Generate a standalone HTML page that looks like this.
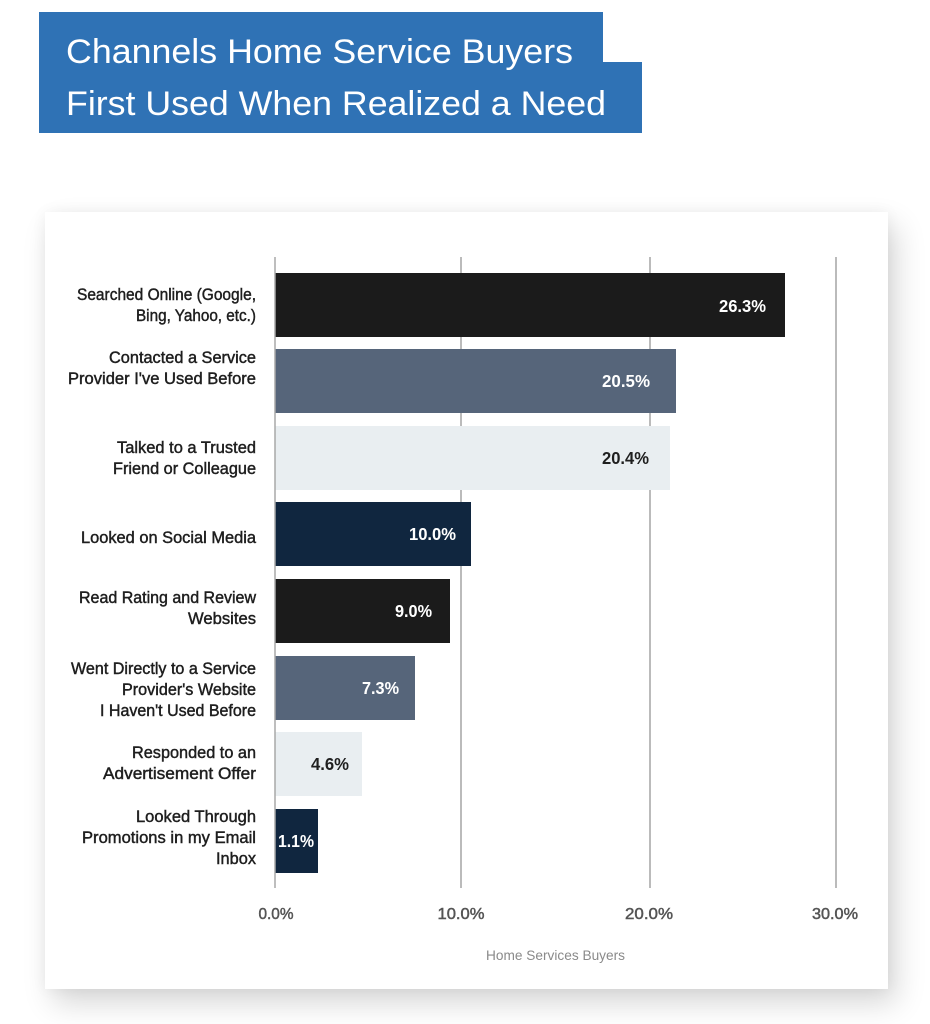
<!DOCTYPE html>
<html>
<head>
<meta charset="utf-8">
<style>
  html,body{margin:0;padding:0;background:#ffffff;}
  body{width:930px;height:1024px;position:relative;overflow:hidden;font-family:"Liberation Sans",sans-serif;}
  .card{position:absolute;left:45px;top:212px;width:843px;height:777px;background:#fff;
    box-shadow:8px 14px 28px rgba(0,0,0,0.16), 0 0 14px rgba(0,0,0,0.05);}
  svg{position:absolute;left:0;top:0;}
</style>
</head>
<body>
<div class="card"></div>
<svg width="930" height="1024" viewBox="0 0 930 1024" xmlns="http://www.w3.org/2000/svg">
  <!-- header blocks -->
  <rect x="39" y="12" width="564" height="52" fill="#2f72b5"/>
  <rect x="39" y="62" width="603" height="71" fill="#2f72b5"/>
  <g font-family="Liberation Sans, DejaVu Sans, sans-serif" font-size="34" fill="#ffffff">
    <text x="66" y="63" textLength="507" lengthAdjust="spacingAndGlyphs">Channels Home Service Buyers</text>
    <text x="66" y="115" textLength="540" lengthAdjust="spacingAndGlyphs">First Used When Realized a Need</text>
  </g>

  <!-- gridlines -->
  <g stroke="#8e8e8e" stroke-width="1.2">
    <line x1="461" y1="257" x2="461" y2="888"/>
    <line x1="650" y1="257" x2="650" y2="888"/>
    <line x1="836" y1="257" x2="836" y2="888"/>
  </g>

  <!-- bars -->
  <rect x="275" y="273" width="510" height="64" fill="#1b1b1b"/>
  <rect x="275" y="349" width="401" height="64" fill="#56657a"/>
  <rect x="275" y="426" width="395" height="64" fill="#e9eef1"/>
  <rect x="275" y="502" width="196" height="64" fill="#10263f"/>
  <rect x="275" y="579" width="175" height="64" fill="#1b1b1b"/>
  <rect x="275" y="656" width="140" height="64" fill="#56657a"/>
  <rect x="275" y="732" width="87" height="64" fill="#e9eef1"/>
  <rect x="275" y="809" width="43" height="64" fill="#10263f"/>

  <!-- axis line -->
  <line x1="275" y1="257" x2="275" y2="888" stroke="#a8a8a8" stroke-width="1.5"/>

  <!-- value labels -->
  <g font-family="Liberation Sans, sans-serif" font-size="17.5" font-weight="bold" text-anchor="middle">
    <text x="742.5" y="312" fill="#ffffff" textLength="47" lengthAdjust="spacingAndGlyphs">26.3%</text>
    <text x="626" y="387" fill="#ffffff" textLength="48" lengthAdjust="spacingAndGlyphs">20.5%</text>
    <text x="625.5" y="464" fill="#1f1f1f" textLength="47" lengthAdjust="spacingAndGlyphs">20.4%</text>
    <text x="432.5" y="540" fill="#ffffff" textLength="47" lengthAdjust="spacingAndGlyphs">10.0%</text>
    <text x="413.5" y="617" fill="#ffffff" textLength="37" lengthAdjust="spacingAndGlyphs">9.0%</text>
    <text x="380.5" y="694" fill="#ffffff" textLength="37" lengthAdjust="spacingAndGlyphs">7.3%</text>
    <text x="330" y="770" fill="#1f1f1f" textLength="38" lengthAdjust="spacingAndGlyphs">4.6%</text>
    <text x="296" y="847" fill="#ffffff" textLength="36" lengthAdjust="spacingAndGlyphs">1.1%</text>
  </g>

  <!-- category labels -->
  <g font-family="Liberation Sans, sans-serif" font-size="16.5" fill="#1e1e1e" stroke="#1e1e1e" stroke-width="0.45" text-anchor="end">
    <text x="256" y="300" textLength="179" lengthAdjust="spacingAndGlyphs">Searched Online (Google,</text>
    <text x="256" y="321" textLength="120" lengthAdjust="spacingAndGlyphs">Bing, Yahoo, etc.)</text>

    <text x="256" y="363" textLength="147" lengthAdjust="spacingAndGlyphs">Contacted a Service</text>
    <text x="256" y="384" textLength="188" lengthAdjust="spacingAndGlyphs">Provider I've Used Before</text>

    <text x="256" y="453" textLength="139" lengthAdjust="spacingAndGlyphs">Talked to a Trusted</text>
    <text x="256" y="474" textLength="143" lengthAdjust="spacingAndGlyphs">Friend or Colleague</text>

    <text x="256" y="543" textLength="175" lengthAdjust="spacingAndGlyphs">Looked on Social Media</text>

    <text x="256" y="603" textLength="177" lengthAdjust="spacingAndGlyphs">Read Rating and Review</text>
    <text x="256" y="624" textLength="68" lengthAdjust="spacingAndGlyphs">Websites</text>

    <text x="256" y="674" textLength="185" lengthAdjust="spacingAndGlyphs">Went Directly to a Service</text>
    <text x="256" y="695" textLength="134" lengthAdjust="spacingAndGlyphs">Provider's Website</text>
    <text x="256" y="716" textLength="156" lengthAdjust="spacingAndGlyphs">I Haven't Used Before</text>

    <text x="256" y="758" textLength="124" lengthAdjust="spacingAndGlyphs">Responded to an</text>
    <text x="256" y="779" textLength="153" lengthAdjust="spacingAndGlyphs">Advertisement Offer</text>

    <text x="256" y="822" textLength="120" lengthAdjust="spacingAndGlyphs">Looked Through</text>
    <text x="256" y="843" textLength="174" lengthAdjust="spacingAndGlyphs">Promotions in my Email</text>
    <text x="256" y="864" textLength="40" lengthAdjust="spacingAndGlyphs">Inbox</text>
  </g>

  <!-- tick labels -->
  <g font-family="Liberation Sans, sans-serif" font-size="16" fill="#555555" stroke="#555555" stroke-width="0.5" text-anchor="middle">
    <text x="276" y="919" textLength="35" lengthAdjust="spacingAndGlyphs">0.0%</text>
    <text x="461" y="919" textLength="47" lengthAdjust="spacingAndGlyphs">10.0%</text>
    <text x="649" y="919" textLength="48" lengthAdjust="spacingAndGlyphs">20.0%</text>
    <text x="835" y="919" textLength="46" lengthAdjust="spacingAndGlyphs">30.0%</text>
  </g>

  <!-- axis title -->
  <text x="555.5" y="960" font-family="Liberation Sans, sans-serif" font-size="14" fill="#8a8a8a" text-anchor="middle" textLength="139" lengthAdjust="spacingAndGlyphs">Home Services Buyers</text>
</svg>
</body>
</html>
